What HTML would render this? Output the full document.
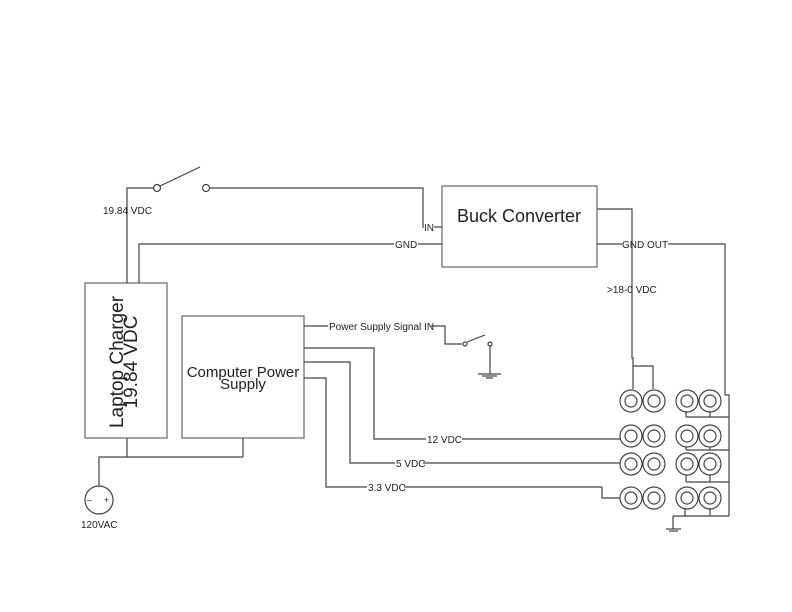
<!DOCTYPE html>
<html><head><meta charset="utf-8"><style>
html,body{margin:0;padding:0;background:#fff}
svg{display:block}
text{font-family:"Liberation Sans",sans-serif;fill:#222}
</style></head><body>
<svg width="792" height="612" viewBox="0 0 792 612" xmlns="http://www.w3.org/2000/svg">
<g fill="none" stroke="#444" stroke-width="1.2">
<!-- boxes -->
<rect x="85" y="283" width="82" height="155" stroke="#666"/>
<rect x="182" y="316" width="122" height="122" stroke="#666"/>
<rect x="442" y="186" width="155" height="81" stroke="#666"/>
<!-- top switch line -->
<polyline points="127,283 127,188 153,188"/>
<line x1="160" y1="186" x2="200" y2="167"/>
<circle cx="157" cy="188" r="3.5"/>
<circle cx="206" cy="188" r="3.5"/>
<polyline points="210,188 423,188 423,228"/>
<line x1="434" y1="227" x2="442" y2="227"/>
<!-- GND -->
<polyline points="139,283 139,244 394,244"/>
<line x1="418" y1="244" x2="442" y2="244"/>
<!-- buck out -->
<polyline points="597,209 632,209 632,358 633,358 633,389"/>
<polyline points="633,366 653,366 653,389"/>
<line x1="597" y1="244" x2="622" y2="244"/>
<polyline points="668,244 725,244 725,395 729,395 729,516"/>
<!-- ground bus -->
<line x1="686" y1="417" x2="729" y2="417"/>
<line x1="686" y1="450" x2="729" y2="450"/>
<line x1="686" y1="482" x2="729" y2="482"/>
<line x1="673" y1="516" x2="729" y2="516"/>
<line x1="686" y1="411" x2="686" y2="417"/><line x1="710" y1="411" x2="710" y2="417"/>
<line x1="686" y1="447" x2="686" y2="450"/><line x1="710" y1="447" x2="710" y2="450"/>
<line x1="686" y1="475" x2="686" y2="482"/><line x1="710" y1="475" x2="710" y2="482"/>
<line x1="685" y1="508" x2="685" y2="516"/><line x1="710" y1="508" x2="710" y2="516"/>
<line x1="673" y1="516" x2="673" y2="529"/>
<line x1="666" y1="529" x2="681" y2="529"/>
<line x1="669" y1="531" x2="678" y2="531"/>
<!-- signal -->
<line x1="304" y1="326" x2="328" y2="326"/>
<polyline points="431,326 445,326 445,344 462,344"/>
<circle cx="465" cy="344" r="2"/>
<line x1="467" y1="342" x2="485" y2="335"/>
<circle cx="490" cy="344" r="2"/>
<line x1="490" y1="346" x2="490" y2="374"/>
<line x1="478" y1="374" x2="501" y2="374"/>
<line x1="482" y1="376" x2="497" y2="376"/>
<line x1="486" y1="378" x2="493" y2="378"/>
<!-- 12 / 5 / 3.3 -->
<polyline points="304,348 374,348 374,439 426,439"/>
<line x1="462" y1="439" x2="620" y2="439"/>
<polyline points="304,362 350,362 350,463 395,463"/>
<line x1="423" y1="463" x2="620" y2="463"/>
<polyline points="304,378 326,378 326,487 367,487"/>
<line x1="404" y1="487" x2="602" y2="487"/>
<polyline points="602,487 602,498 620,498"/>
<!-- bottom power -->
<line x1="127" y1="438" x2="127" y2="457"/>
<line x1="243" y1="438" x2="243" y2="457"/>
<polyline points="243,457 99,457 99,486"/>
<circle cx="99" cy="500" r="14"/>
<!-- jacks -->
<g id="j">
<circle cx="631" cy="401" r="11"/><circle cx="631" cy="401" r="6"/>
<circle cx="654" cy="401" r="11"/><circle cx="654" cy="401" r="6"/>
<circle cx="687" cy="401" r="11"/><circle cx="687" cy="401" r="6"/>
<circle cx="710" cy="401" r="11"/><circle cx="710" cy="401" r="6"/>
</g>
<use href="#j" y="35"/>
<use href="#j" y="63"/>
<use href="#j" y="97"/>
</g>
<text x="103" y="214" font-size="10">19.84 VDC</text>
<text x="424" y="231" font-size="10">IN</text>
<text x="395" y="248" font-size="10">GND</text>
<text x="622" y="248" font-size="10">GND OUT</text>
<text x="607" y="293" font-size="10">&gt;18-0 VDC</text>
<text x="329" y="330" font-size="10">Power Supply Signal IN</text>
<text x="427" y="443" font-size="10">12 VDC</text>
<text x="396" y="467" font-size="10">5 VDC</text>
<text x="368" y="491" font-size="10">3.3 VDC</text>
<text x="81" y="528" font-size="10">120VAC</text>
<text x="87" y="503" font-size="9">–</text>
<text x="104" y="503" font-size="9">+</text>
<text x="519" y="222" font-size="18" text-anchor="middle">Buck Converter</text>
<text x="243" y="377" font-size="15" text-anchor="middle">Computer Power</text>
<text x="243" y="389" font-size="15" text-anchor="middle">Supply</text>
<g transform="translate(125,362) rotate(-90)">
<text x="0" y="-2" font-size="19" text-anchor="middle">Laptop Charger</text>
<text x="0" y="12" font-size="19" text-anchor="middle">19.84 VDC</text>
</g>
</svg>
</body></html>
